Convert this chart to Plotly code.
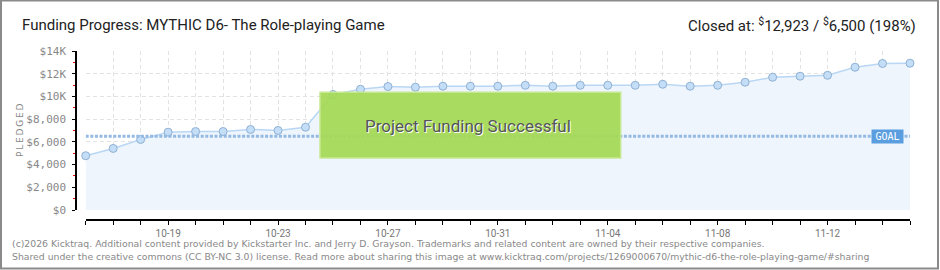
import plotly.graph_objects as go

# ---- data ----
dates = ["10-16", "10-17", "10-18", "10-19", "10-20", "10-21", "10-22", "10-23",
         "10-24", "10-25", "10-26", "10-27", "10-28", "10-29", "10-30", "10-31",
         "11-01", "11-02", "11-03", "11-04", "11-05", "11-06", "11-07", "11-08",
         "11-09", "11-10", "11-11", "11-12", "11-13", "11-14", "11-15"]
pledged = [4780, 5420, 6210, 6850, 6910, 6910, 7090, 7000, 7290, 10170,
           10630, 10870, 10810, 10900, 10900, 10900, 10980, 10900, 10980, 10980,
           10980, 11070, 10900, 10980, 11250, 11690, 11780, 11860, 12570, 12900,
           12923]
goal = 6500
x_label_dates = ["10-19", "10-23", "10-27", "10-31", "11-04", "11-08", "11-12"]
y_tick_vals = [0, 2000, 4000, 6000, 8000, 10000, 12000, 14000]
y_tick_text = ["$0", "$2,000", "$4,000", "$6,000", "$8,000", "$10K", "$12K", "$14K"]
y_minor_vals = [1000, 3000, 5000, 7000, 9000, 11000, 13000]

title_text = "Funding Progress: MYTHIC D6- The Role-playing Game"
closed_text = "Closed at: <sup>$</sup>12,923 / <sup>$</sup>6,500 (198%)"
banner_text = "Project Funding Successful"
footer1 = ("(c)2026 Kicktraq. Additional content provided by Kickstarter Inc. and Jerry D. Grayson. "
           "Trademarks and related content are owned by their respective companies.")
footer2 = ("Shared under the creative commons (CC BY-NC 3.0) license. Read more about sharing this "
           "image at www.kicktraq.com/projects/1269000670/mythic-d6-the-role-playing-game/#sharing")

# ---- geometry helpers (pixels -> paper) ----
W, H = 940, 270
L, R, T, B = 76, 30, 51, 50
PW, PH = W - L - R, H - T - B


def px(x):
    return (x - L) / PW


def py(y):
    return (H - B - y) / PH


FONT = "Roboto, sans-serif"

day_idx = list(range(len(dates)))
label_idx = [dates.index(d) for d in x_label_dates]

fig = go.Figure()

fig.add_trace(go.Scatter(
    x=day_idx, y=pledged, mode="lines+markers",
    customdata=dates, hovertemplate="%{customdata}: $%{y:,}<extra></extra>",
    line=dict(color="#b9d7f4", width=1.5),
    fill="tozeroy", fillcolor="#eef5fc",
    marker=dict(size=8, color="#c4def8", line=dict(color="#8fb0d2", width=1)),
    cliponaxis=False, showlegend=False,
))

fig.add_trace(go.Scatter(
    x=[day_idx[0], day_idx[-1]], y=[goal, goal], mode="lines",
    line=dict(color="#94b9e2", width=3, dash="3px,1.6px"),
    showlegend=False, hoverinfo="skip",
))

fig.update_layout(
    width=W, height=H,
    margin=dict(l=L, r=R, t=T, b=B),
    paper_bgcolor="white", plot_bgcolor="white",
    xaxis=dict(
        type="linear", range=[day_idx[0], day_idx[-1]],
        domain=[px(85.7), 1], anchor="free", position=0,
        tickmode="array", tickvals=label_idx, ticktext=x_label_dates,
        ticks="outside", ticklen=4, tickcolor="black", tickwidth=1,
        minor=dict(tickmode="linear", tick0=0, dtick=1, ticks="outside",
                   ticklen=4, tickcolor="black", tickwidth=1,
                   showgrid=True, gridcolor="#e2e2e2", gridwidth=1,
                   griddash="4px,3px"),
        showline=True, linecolor="black", linewidth=1.5,
        showgrid=True, gridcolor="#e2e2e2", gridwidth=1, griddash="4px,3px",
        tickfont=dict(family=FONT, size=10, color="#777"),
        zeroline=False, fixedrange=True,
    ),
    yaxis=dict(
        range=[0, 14000], domain=[py(210), 1], anchor="free", position=0,
        tickmode="array", tickvals=y_tick_vals, ticktext=y_tick_text,
        ticks="outside", ticklen=3, tickcolor="black", tickwidth=1,
        ticklabelstandoff=4,
        minor=dict(tickmode="array", tickvals=y_minor_vals, ticks="outside",
                   ticklen=2, tickcolor="red", tickwidth=1, showgrid=False),
        showline=True, linecolor="black", linewidth=1.5,
        showgrid=True, gridcolor="#e2e2e2", gridwidth=1, griddash="4px,3px",
        tickfont=dict(family="DejaVu Sans Mono, monospace", size=11, color="#888"),
        zeroline=False, fixedrange=True,
    ),
    shapes=[
        dict(type="rect", xref="paper", yref="paper",
             x0=px(320), x1=px(620.7), y0=py(158), y1=py(92.3),
             fillcolor="#a5da56", opacity=0.93,
             line=dict(color="#c3e88a", width=1.5), layer="above"),
        dict(type="rect", xref="paper", yref="paper",
             x0=px(1), x1=px(938), y0=py(268.5), y1=py(0.5),
             line=dict(color="#8a8a8a", width=2), fillcolor="rgba(0,0,0,0)",
             layer="above"),
    ],
    annotations=[
        dict(text=title_text, xref="paper", yref="paper", x=px(20), y=py(25),
             xanchor="left", yanchor="middle", showarrow=False,
             font=dict(family=FONT, size=15, color="#222")),
        dict(text=closed_text, xref="paper", yref="paper", x=px(918), y=py(25),
             xanchor="right", yanchor="middle", showarrow=False,
             font=dict(family=FONT, size=15, color="#222")),
        dict(text=banner_text, xref="paper", yref="paper", x=px(468), y=py(126),
             xanchor="center", yanchor="middle", showarrow=False,
             font=dict(family=FONT, size=17, color="#555",
                       shadow="1px 1px 0px #ffffff")),
        dict(text="GOAL", xref="paper", yref="y", x=px(887.5), y=goal,
             xanchor="center", yanchor="middle", showarrow=False,
             bgcolor="#5b9ee0", borderpad=1, width=29, height=11,
             font=dict(family="DejaVu Sans Mono, monospace", size=10, color="white")),
        dict(text="P\u2009L\u2009E\u2009D\u2009G\u2009E\u2009D", xref="paper", yref="paper",
             x=px(20), y=py(130), textangle=-90, showarrow=False,
             xanchor="center", yanchor="middle",
             font=dict(family="DejaVu Sans, sans-serif", size=9, color="#888")),
        dict(text=footer1, xref="paper", yref="paper", x=px(10), y=py(243),
             xanchor="left", yanchor="middle", showarrow=False,
             font=dict(family="DejaVu Sans, sans-serif", size=9.3, color="#888")),
        dict(text=footer2, xref="paper", yref="paper", x=px(10), y=py(256),
             xanchor="left", yanchor="middle", showarrow=False,
             font=dict(family="DejaVu Sans, sans-serif", size=9.3, color="#888")),
    ],
)

fig.write_html("out.html", config=dict(displayModeBar=False))
